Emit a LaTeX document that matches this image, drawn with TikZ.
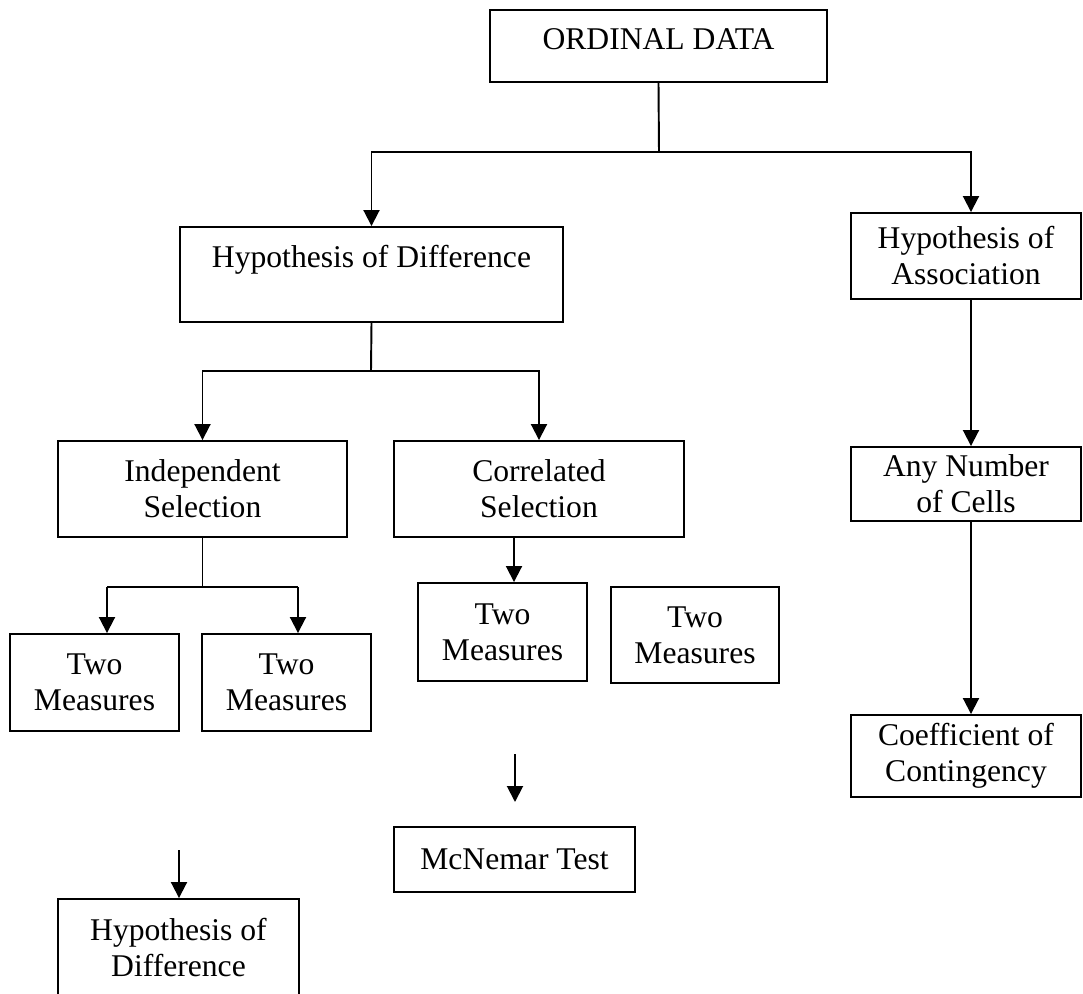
\documentclass[tikz,border=0pt]{standalone}
\usepackage{fontspec}
\setmainfont{Liberation Serif}
\usetikzlibrary{arrows.meta}

\tikzset{
  box/.style={draw, line width=1.1pt, inner sep=0pt, align=center,
    font=\fontsize{18}{20.5}\selectfont},
  arr/.style={line width=1.1pt, -{Triangle[length=0.32cm, width=0.32cm]}},
  link/.style={line width=1.1pt}
}

\begin{document}
\begin{tikzpicture}[line cap=butt, line join=miter, x=0.02cm, y=-0.02cm]

                \useasboundingbox (0,0) rectangle (1083,994);
                \clip (0,0) rectangle (1083,994);

                % top
                \node[box, minimum width=6.74cm, minimum height=1.44cm, text depth=8pt] (ord) at (658.5,46) {ORDINAL DATA};
                \node[box, minimum width=7.66cm, minimum height=1.9cm, text depth=21pt] (hd) at (371.5,274.5) {Hypothesis of Difference};
                \node[box, minimum width=4.6cm, minimum height=1.72cm] (ha) at (966,256) {Hypothesis of\\Association};

                % left branch
                \node[box, minimum width=5.78cm, minimum height=1.92cm] (ind) at (202.5,489) {Independent\\Selection};
                \node[box, minimum width=5.8cm, minimum height=1.92cm] (cor) at (539,489) {Correlated\\Selection};

                \node[box, minimum width=3.38cm, minimum height=1.94cm] (tm1) at (94.5,682.5) {Two\\Measures};
                \node[box, minimum width=3.38cm, minimum height=1.94cm] (tm2) at (286.5,682.5) {Two\\Measures};
                \node[box, minimum width=3.38cm, minimum height=1.96cm] (tm3) at (502.5,632) {Two\\Measures};
                \node[box, minimum width=3.36cm, minimum height=1.92cm] (tm4) at (695,635) {Two\\Measures};

                \node[box, minimum width=4.82cm, minimum height=1.3cm] (mcn) at (514.5,859.5) {McNemar Test};
                \node[box, minimum width=4.82cm, minimum height=1.94cm] (hd2) at (178.5,947.5) {Hypothesis of\\Difference};

                % right branch
                \node[box, minimum width=4.6cm, minimum height=1.48cm] (any) at (966,484) {Any Number\\of Cells};
                \node[box, minimum width=4.6cm, minimum height=1.64cm] (coe) at (966,756) {Coefficient of\\Contingency};

                % branch points
                \coordinate (bO) at (659,152);
                \coordinate (bH) at (371,371);
                \coordinate (bIl) at (107,587);
                \coordinate (bIr) at (298,587);
                \coordinate (fM) at (515,754);
                \coordinate (fMt) at (515,802);
                \coordinate (fD) at (179,850);

                \draw[link] (ord.south) -- (bO);
                \draw[arr] (bO) -| (hd.north);
                \draw[arr] (bO) -| ([xshift=0.1cm]ha.north);

                \draw[link] (hd.south) -- (bH);
                \draw[arr] (bH) -| (ind.north);
                \draw[arr] (bH) -| (cor.north);

                \draw[link] (ind.south) -- (ind.south |- bIl);
                \draw[link] (bIl) -- (bIr);
                \draw[arr] (bIl) -- (bIl |- tm1.north);
                \draw[arr] (bIr) -- (bIr |- tm2.north);

                \draw[arr] ([xshift=-0.5cm]cor.south) -- ([xshift=-0.5cm]cor.south |- tm3.north);

                \draw[arr] ([xshift=0.1cm]ha.south) -- ([xshift=0.1cm]any.north);
                \draw[arr] ([xshift=0.1cm]any.south) -- ([xshift=0.1cm]coe.north);

                \draw[arr] (fM) -- (fMt);
                \draw[arr] (fD) -- (fD |- hd2.north);

            \end{tikzpicture}
\end{document}
